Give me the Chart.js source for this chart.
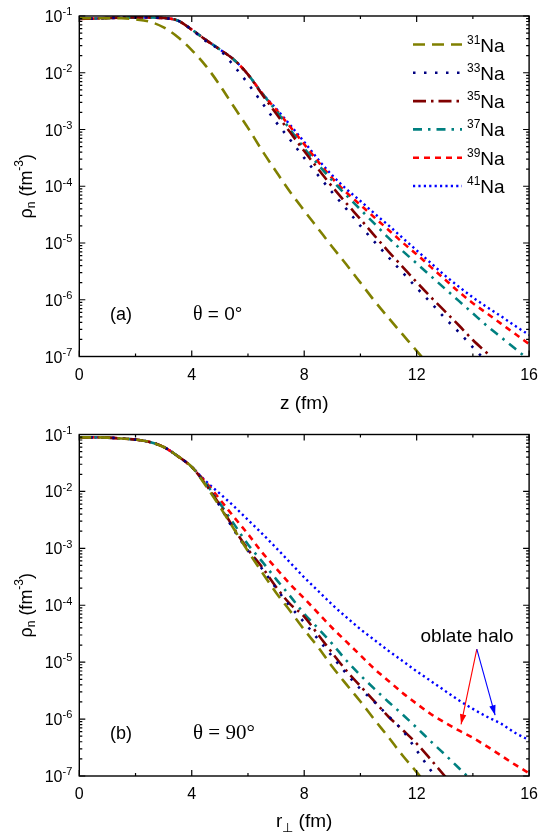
<!DOCTYPE html>
<html><head><meta charset="utf-8">
<script src="https://cdn.jsdelivr.net/npm/chart.js@4.4.1/dist/chart.umd.min.js"></script>
<style>
html,body{margin:0;padding:0;background:#fff;}
.wrap{position:relative;width:547px;height:418px;overflow:hidden;}
canvas{display:block;}
</style></head><body>
<div class="wrap"><canvas id="cA" width="547" height="418"></canvas></div>
<div class="wrap"><canvas id="cB" width="547" height="418"></canvas></div>
<script>
// ---------------- data ----------------
const r = [0,0.5,1,1.5,2,2.5,3,3.5,4,4.5,5,5.5,6,6.5,7,7.5,8,8.5,9,9.5,10,10.5,11,11.5,12,12.5,13,13.5,14,14.5,15,15.5,16];
const isotopes = ["31","33","35","37","39","41"];
const xTicksMajor = [0,4,8,12,16];
const xTicksMinor = [2,6,10,14];
const yExponents = [-1,-2,-3,-4,-5,-6,-7];

// panel (a): theta = 0 deg, rho_n(z)
const a31 = [0.0912,0.0912,0.0912,0.0912,0.0871,0.0794,0.0631,0.0427,0.0251,0.0132,6.03e-3,2.51e-3,1.07e-3,4.27e-4,1.82e-4,7.94e-5,3.72e-5,1.78e-5,8.51e-6,4.17e-6,2.0e-6,9.55e-7,4.79e-7,2.45e-7,1.26e-7,6.31e-8];
const a33 = [0.0891,0.0900,0.0920,0.0933,0.0940,0.0940,0.0920,0.0832,0.0575,0.0363,0.0251,0.0132,6.46e-3,2.95e-3,1.35e-3,6.61e-4,3.16e-4,1.55e-4,7.76e-5,3.98e-5,2.0e-5,1.05e-5,5.62e-6,3.02e-6,1.62e-6,8.91e-7,4.79e-7,2.69e-7,1.45e-7,7.94e-8];
const a35 = [0.0891,0.0900,0.0920,0.0933,0.0940,0.0940,0.0920,0.0832,0.0575,0.0380,0.0257,0.0170,9.33e-3,4.17e-3,1.91e-3,8.91e-4,4.17e-4,2.0e-4,9.77e-5,5.01e-5,2.63e-5,1.35e-5,7.08e-6,3.80e-6,2.04e-6,1.12e-6,6.31e-7,3.55e-7,1.95e-7,1.15e-7,6.76e-8];
const a37 = [0.0891,0.0900,0.0920,0.0933,0.0940,0.0940,0.0920,0.0832,0.0575,0.0380,0.0257,0.0170,9.33e-3,4.37e-3,2.14e-3,1.0e-3,4.68e-4,2.40e-4,1.26e-4,6.92e-5,3.89e-5,2.19e-5,1.23e-5,7.24e-6,4.37e-6,2.63e-6,1.58e-6,9.55e-7,5.75e-7,3.47e-7,2.19e-7,1.38e-7,8.71e-8];
const a39 = [0.0891,0.0900,0.0920,0.0933,0.0940,0.0940,0.0920,0.0832,0.0575,0.0380,0.0257,0.0170,9.33e-3,4.37e-3,2.24e-3,1.12e-3,5.50e-4,2.69e-4,1.38e-4,7.76e-5,4.68e-5,2.82e-5,1.70e-5,1.02e-5,6.31e-6,3.80e-6,2.29e-6,1.38e-6,8.71e-7,5.75e-7,3.80e-7,2.51e-7,1.66e-7];
const a41 = [0.0891,0.0900,0.0920,0.0933,0.0940,0.0940,0.0920,0.0832,0.0575,0.0380,0.0257,0.0170,9.33e-3,4.37e-3,2.34e-3,1.20e-3,6.03e-4,2.95e-4,1.55e-4,8.91e-5,5.50e-5,3.31e-5,2.04e-5,1.23e-5,7.41e-6,4.47e-6,2.69e-6,1.70e-6,1.10e-6,7.41e-7,5.13e-7,3.47e-7,2.40e-7];

// panel (b): theta = 90 deg, rho_n(r_perp)
const b31 = [0.0891,0.0891,0.0881,0.0851,0.0813,0.0741,0.0603,0.0417,0.0269,0.0126,5.37e-3,2.19e-3,8.91e-4,3.80e-4,1.66e-4,7.94e-5,3.72e-5,1.82e-5,8.32e-6,4.07e-6,2.04e-6,9.77e-7,4.79e-7,2.29e-7,1.17e-7,5.62e-8];
const b33 = [0.0891,0.0891,0.0881,0.0851,0.0813,0.0741,0.0603,0.0417,0.0269,0.0132,5.50e-3,2.09e-3,9.12e-4,4.37e-4,2.0e-4,9.55e-5,5.01e-5,2.51e-5,1.26e-5,6.31e-6,3.39e-6,2.0e-6,1.12e-6,6.31e-7,2.82e-7,1.26e-7,5.62e-8];
const b35 = [0.0891,0.0891,0.0881,0.0851,0.0813,0.0741,0.0603,0.0417,0.0269,0.0132,5.75e-3,2.24e-3,9.55e-4,4.68e-4,2.09e-4,1.05e-4,6.31e-5,3.02e-5,1.45e-5,7.08e-6,3.80e-6,2.04e-6,1.10e-6,6.46e-7,3.72e-7,1.95e-7,1.0e-7,5.01e-8];
const b37 = [0.0891,0.0891,0.0881,0.0851,0.0813,0.0741,0.0603,0.0417,0.0269,0.0138,6.17e-3,2.69e-3,1.17e-3,5.89e-4,2.88e-4,1.45e-4,7.08e-5,3.89e-5,2.09e-5,1.07e-5,5.89e-6,3.39e-6,2.0e-6,1.20e-6,7.08e-7,4.07e-7,2.40e-7,1.38e-7,7.94e-8];
const b39 = [0.0891,0.0891,0.0881,0.0851,0.0813,0.0741,0.0603,0.0417,0.0269,0.0145,7.24e-3,3.55e-3,1.78e-3,8.51e-4,4.47e-4,2.34e-4,1.32e-4,7.24e-5,3.98e-5,2.29e-5,1.32e-5,7.59e-6,4.68e-6,2.88e-6,1.86e-6,1.23e-6,8.71e-7,6.31e-7,4.68e-7,3.31e-7,2.29e-7,1.58e-7,1.12e-7];
const b41 = [0.0891,0.0891,0.0881,0.0851,0.0813,0.0741,0.0603,0.0417,0.0269,0.0151,9.12e-3,5.50e-3,3.16e-3,1.82e-3,1.02e-3,5.62e-4,3.09e-4,1.78e-4,1.02e-4,6.17e-5,3.80e-5,2.45e-5,1.58e-5,1.05e-5,6.92e-6,4.68e-6,3.16e-6,2.14e-6,1.51e-6,1.10e-6,8.32e-7,5.75e-7,4.27e-7];

// ---------------- styles ----------------
const FONT = "'Liberation Sans', Arial, sans-serif";
const SERIF = "'Liberation Serif', 'Times New Roman', serif";
const styles = [
  {color:'#808000', dash:[12,7], width:2.6},
  {color:'#000080', dash:[2.5,8.5], width:2.6},
  {color:'#800000', dash:[13,5,2.5,5], width:2.6},
  {color:'#008080', dash:[9,6,2.5,6], width:2.6},
  {color:'#FF0000', dash:[6,5], width:2.6},
  {color:'#0000FF', dash:[2.2,3.2], width:2.4}
];

function mkData(arr){ return arr.map((v,i)=>({x:r[i], y:v})); }
function datasets(series){
  return series.map((s,i)=>({
    label: isotopes[i]+'Na',
    data: mkData(s),
    borderColor: styles[i].color,
    borderWidth: styles[i].width,
    borderDash: styles[i].dash,
    borderCapStyle: 'butt',
    pointRadius: 0,
    cubicInterpolationMode: 'monotone',
    fill: false
  }));
}

function drawSup(ctx, x, y, base, sup, size, align){
  ctx.font = size+'px '+FONT;
  const wb = ctx.measureText(base).width;
  ctx.font = Math.round(size*0.68)+'px '+FONT;
  const ws = ctx.measureText(sup).width;
  let x0 = align==='right' ? x - wb - ws : x;
  ctx.font = size+'px '+FONT;
  ctx.textAlign='left'; ctx.textBaseline='alphabetic';
  ctx.fillText(base, x0, y);
  ctx.font = Math.round(size*0.68)+'px '+FONT;
  ctx.fillText(sup, x0+wb, y - size*0.42);
}

const framePlugin = {
  id:'frame',
  afterDatasetsDraw(chart, args, opts){
    const ctx = chart.ctx, ca = chart.chartArea;
    const xs = chart.scales.x, ys = chart.scales.y;
    ctx.save();
    ctx.strokeStyle='#000'; ctx.fillStyle='#000';
    ctx.lineWidth=1.4;
    ctx.strokeRect(ca.left, ca.top, ca.right-ca.left, ca.bottom-ca.top);
    ctx.lineWidth=1.2;
    ctx.beginPath();
    xTicksMajor.forEach(v=>{ const p=xs.getPixelForValue(v);
      ctx.moveTo(p,ca.bottom); ctx.lineTo(p,ca.bottom-6);
      ctx.moveTo(p,ca.top); ctx.lineTo(p,ca.top+6); });
    xTicksMinor.forEach(v=>{ const p=xs.getPixelForValue(v);
      ctx.moveTo(p,ca.bottom); ctx.lineTo(p,ca.bottom-3);
      ctx.moveTo(p,ca.top); ctx.lineTo(p,ca.top+3); });
    yExponents.forEach(e=>{
      const p=ys.getPixelForValue(Math.pow(10,e));
      ctx.moveTo(ca.left,p); ctx.lineTo(ca.left+6,p);
      ctx.moveTo(ca.right,p); ctx.lineTo(ca.right-6,p);
      if(e>-7){ for(let k=2;k<=9;k++){ const q=ys.getPixelForValue(k*Math.pow(10,e-1));
        ctx.moveTo(ca.left,q); ctx.lineTo(ca.left+3,q);
        ctx.moveTo(ca.right,q); ctx.lineTo(ca.right-3,q); } }
    });
    ctx.stroke();
    yExponents.forEach(e=>{
      const p=ys.getPixelForValue(Math.pow(10,e));
      drawSup(ctx, ca.left-7, p+6, '10', String(e), 16, 'right');
    });
    // y title
    ctx.save();
    ctx.translate(27, (ca.top+ca.bottom)/2);
    ctx.rotate(-Math.PI/2);
    const fs=18;
    const parts=[['ρ',fs,0],['n',Math.round(fs*0.68),5],[' (fm',fs,0],['-3',Math.round(fs*0.68),-7.5],[')',fs,0]];
    let tw=0; parts.forEach(pt=>{ctx.font=pt[1]+'px '+FONT; tw+=ctx.measureText(pt[0]).width;});
    let cx=-tw/2;
    ctx.textAlign='left'; ctx.textBaseline='middle';
    parts.forEach(pt=>{ctx.font=pt[1]+'px '+FONT; ctx.fillText(pt[0],cx,pt[2]); cx+=ctx.measureText(pt[0]).width;});
    ctx.restore();
    // x title
    const xc=(ca.left+ca.right)/2;
    ctx.textBaseline='alphabetic';
    if(opts.panel==='a'){
      ctx.font='19px '+FONT; ctx.textAlign='center';
      ctx.fillText('z (fm)', xc, ca.bottom+52);
    } else {
      ctx.font='19px '+FONT; ctx.textAlign='left';
      const w1=ctx.measureText('r').width, w2=ctx.measureText(' (fm)').width;
      ctx.font='13px '+FONT; const ws=ctx.measureText('⊥').width;
      let x0=xc-(w1+ws+w2)/2;
      ctx.font='19px '+FONT; ctx.fillText('r',x0,ca.bottom+51);
      ctx.font='13px '+FONT; ctx.fillText('⊥',x0+w1,ca.bottom+56);
      ctx.font='19px '+FONT; ctx.fillText(' (fm)',x0+w1+ws,ca.bottom+51);
    }
    // panel label and theta
    ctx.textAlign='left'; ctx.textBaseline='alphabetic';
    ctx.font='18px '+FONT;
    const ly=ca.bottom-37;
    ctx.fillText(opts.panel==='a'?'(a)':'(b)', 110, ly);
    if(opts.panel==='a'){
      ctx.font='20px '+SERIF; ctx.fillText('θ',193,ly);
      const wt=ctx.measureText('θ').width;
      ctx.font='19px '+FONT; ctx.fillText(' = 0°',193+wt,ly);
    } else {
      ctx.font='21px '+SERIF; ctx.fillText('θ = 90°',193,ly);
    }
    if(opts.panel==='a'){
      chart.data.datasets.forEach((ds,i)=>{
        const y=44.5+i*28.3;
        ctx.save();
        ctx.strokeStyle=ds.borderColor; ctx.lineWidth=ds.borderWidth; ctx.setLineDash(ds.borderDash); ctx.lineCap='butt';
        ctx.beginPath(); ctx.moveTo(413,y); ctx.lineTo(462,y); ctx.stroke();
        ctx.restore();
        ctx.font='12px '+FONT; ctx.textAlign='left'; ctx.fillText(isotopes[i], 467, y-1);
        const w=ctx.measureText(isotopes[i]).width;
        ctx.font='19px '+FONT; ctx.fillText('Na', 467+w, y+7);
      });
    } else {
      ctx.font='19px '+FONT; ctx.textAlign='center';
      ctx.fillText('oblate halo', 467, 224);
      const ax=xs.getPixelForValue(14.14), ay=ys.getPixelForValue(1.7e-5);
      const arrow=(tx,ty,col)=>{
        ctx.strokeStyle=col; ctx.fillStyle=col; ctx.lineWidth=1.1;
        ctx.beginPath(); ctx.moveTo(ax,ay); ctx.lineTo(tx,ty); ctx.stroke();
        const ang=Math.atan2(ty-ay,tx-ax), L=10, W=3.2;
        ctx.beginPath(); ctx.moveTo(tx,ty);
        ctx.lineTo(tx-L*Math.cos(ang)+W*Math.sin(ang), ty-L*Math.sin(ang)-W*Math.cos(ang));
        ctx.lineTo(tx-L*Math.cos(ang)-W*Math.sin(ang), ty-L*Math.sin(ang)+W*Math.cos(ang));
        ctx.closePath(); ctx.fill();
      };
      arrow(xs.getPixelForValue(13.58), ys.getPixelForValue(8.1e-7), '#FF0000');
      arrow(xs.getPixelForValue(14.79), ys.getPixelForValue(1.17e-6), '#0000FF');
    }
    ctx.restore();
  }
};

function makeChart(id, series, panel, topPad, xH){
  return new Chart(document.getElementById(id), {
    type:'line',
    data:{ datasets: datasets(series) },
    options:{
      responsive:false, animation:false, devicePixelRatio:1,
      layout:{ padding:{ left:0, right:14.4, top:topPad, bottom:0 } },
      plugins:{ legend:{display:false}, tooltip:{enabled:false}, frame:{panel:panel} },
      scales:{
        x:{ type:'linear', min:0, max:16,
            ticks:{ stepSize:4, color:'#000', font:{size:16, family:FONT}, padding:9, maxRotation:0 },
            grid:{ display:false, drawTicks:false }, border:{display:false},
            afterFit:(s)=>{ s.height=xH; } },
        y:{ type:'logarithmic', min:1e-7, max:1e-1,
            ticks:{ display:false }, grid:{ display:false, drawTicks:false }, border:{display:false},
            afterFit:(s)=>{ s.width=79.3; } }
      }
    },
    plugins:[framePlugin]
  });
}

makeChart('cA', [a31,a33,a35,a37,a39,a41], 'a', 16, 61.5);
makeChart('cB', [b31,b33,b35,b37,b39,b41], 'b', 16.5, 60);
</script>
</body></html>
